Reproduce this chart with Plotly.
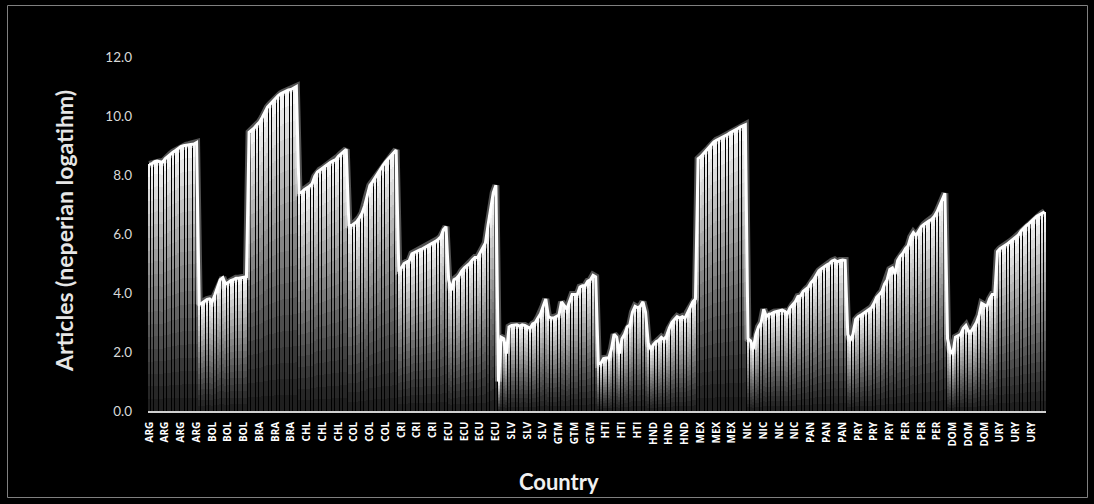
import plotly.graph_objects as go

# Country codes, in plotting order; each country has 19 yearly observations
countries = ["ARG", "BOL", "BRA", "CHL", "COL", "CRI", "ECU", "SLV", "GTM",
             "HTI", "HND", "MEX", "NIC", "PAN", "PRY", "PER", "DOM", "URY"]

# Articles per year (natural logarithm), one list per country
arg = [8.36, 8.38, 8.45, 8.47, 8.45, 8.43, 8.55, 8.63, 8.70, 8.77, 8.83, 8.90, 8.96, 8.99, 9.01, 9.03, 9.04, 9.05, 9.10]
bol = [3.62, 3.65, 3.73, 3.78, 3.80, 3.72, 3.95, 4.20, 4.45, 4.52, 4.30, 4.35, 4.42, 4.45, 4.50, 4.50, 4.52, 4.52, 4.55]
bra = [9.45, 9.52, 9.60, 9.70, 9.80, 9.95, 10.15, 10.30, 10.40, 10.50, 10.60, 10.68, 10.75, 10.80, 10.85, 10.88, 10.90, 10.94, 11.00]
chl = [7.40, 7.41, 7.50, 7.55, 7.62, 7.70, 7.95, 8.10, 8.17, 8.22, 8.28, 8.35, 8.43, 8.48, 8.52, 8.63, 8.72, 8.80, 8.87]
col = [6.30, 6.28, 6.35, 6.42, 6.55, 6.70, 6.95, 7.35, 7.65, 7.77, 7.92, 8.02, 8.20, 8.33, 8.45, 8.55, 8.63, 8.72, 8.85]
cri = [4.80, 4.85, 5.00, 5.05, 5.10, 5.33, 5.38, 5.42, 5.46, 5.50, 5.55, 5.60, 5.65, 5.68, 5.75, 5.82, 5.90, 6.14, 6.25]
ecu = [4.45, 4.10, 4.45, 4.50, 4.60, 4.75, 4.85, 4.93, 5.00, 5.12, 5.20, 5.20, 5.35, 5.55, 5.70, 6.30, 6.90, 7.40, 7.65]
slv = [1.00, 2.50, 2.45, 1.95, 2.85, 2.90, 2.90, 2.92, 2.88, 2.92, 2.90, 2.85, 2.80, 2.95, 3.00, 3.15, 3.30, 3.55, 3.80]
gtm = [3.20, 3.15, 3.15, 3.20, 3.25, 3.70, 3.55, 3.45, 3.70, 3.95, 3.95, 3.95, 4.20, 4.25, 4.25, 4.40, 4.45, 4.60, 4.55]
hti = [1.60, 1.62, 1.78, 1.80, 1.80, 2.10, 2.60, 2.50, 1.95, 2.45, 2.60, 2.85, 2.92, 3.35, 3.55, 3.50, 3.55, 3.70, 3.35]
hnd = [2.30, 2.10, 2.25, 2.35, 2.40, 2.50, 2.42, 2.55, 2.80, 3.00, 3.10, 3.20, 3.15, 3.20, 3.15, 3.35, 3.50, 3.70, 3.80]
mex = [8.55, 8.62, 8.72, 8.82, 8.90, 9.00, 9.12, 9.18, 9.22, 9.27, 9.32, 9.36, 9.42, 9.48, 9.52, 9.57, 9.62, 9.65, 9.70]
nic = [2.45, 2.38, 2.10, 2.60, 2.85, 3.00, 3.45, 3.20, 3.28, 3.30, 3.35, 3.37, 3.40, 3.42, 3.38, 3.30, 3.50, 3.60, 3.70]
pan = [3.88, 3.90, 4.05, 4.12, 4.20, 4.35, 4.45, 4.60, 4.75, 4.82, 4.90, 4.95, 5.00, 5.08, 5.12, 5.05, 5.10, 5.12, 5.10]
pry = [2.60, 2.40, 2.60, 3.10, 3.20, 3.25, 3.32, 3.38, 3.45, 3.50, 3.65, 3.85, 3.95, 4.05, 4.30, 4.45, 4.80, 4.85, 4.65]
per = [5.10, 5.25, 5.35, 5.50, 5.60, 5.90, 6.05, 5.95, 6.10, 6.25, 6.32, 6.40, 6.45, 6.50, 6.60, 6.75, 6.95, 7.15, 7.38]
dom = [2.45, 2.05, 1.95, 2.50, 2.55, 2.60, 2.80, 2.90, 2.70, 2.70, 2.85, 3.00, 3.25, 3.65, 3.60, 3.55, 3.80, 3.95, 3.95]
ury = [5.40, 5.50, 5.55, 5.62, 5.68, 5.75, 5.82, 5.90, 5.97, 6.10, 6.20, 6.28, 6.35, 6.45, 6.52, 6.60, 6.65, 6.70, 6.75]

series = [arg, bol, bra, chl, col, cri, ecu, slv, gtm,
          hti, hnd, mex, nic, pan, pry, per, dom, ury]

# Flatten into one sequence of observations with their country labels
values = [v for s in series for v in s]
labels = [c for c, s in zip(countries, series) for _ in s]
idx = list(range(len(values)))

# Every sixth observation carries a country label on the axis
tick_step = 6
tickvals = idx[::tick_step]
ticktext = [labels[i] for i in tickvals]

W, H = 1094, 504
FONT = "Lato"

fig = go.Figure()

# Bars with a vertical fade: each bar is split into stacked slices that
# run from dark at the base to white at the top
n_slices = 20
for k in range(n_slices):
    t = (k + 0.5) / n_slices
    b = int(28 + (250 - 28) * t ** 1.15)
    fig.add_trace(go.Bar(
        x=idx, y=[v / n_slices for v in values],
        marker=dict(color=f"rgb({b},{b},{b})", line=dict(width=0)),
        hoverinfo="skip",
    ))

# Soft halo under the outline
fig.add_trace(go.Scatter(
    x=idx, y=values, mode="lines",
    line=dict(color="rgba(255,255,255,0.32)", width=7),
    hoverinfo="skip",
))
# Outline across the bar tops
fig.add_trace(go.Scatter(
    x=idx, y=values, mode="lines",
    line=dict(color="white", width=3),
    customdata=labels,
    hovertemplate="%{customdata}: %{y:.2f}<extra></extra>",
))

fig.update_layout(
    width=W, height=H, autosize=False,
    margin=dict(l=0, r=0, t=0, b=0, pad=0),
    paper_bgcolor="black", plot_bgcolor="black",
    barmode="stack", bargap=0.6,
    showlegend=False,
    xaxis=dict(
        domain=[148 / W, 1046 / W],
        range=[-0.5, len(values) - 0.5],
        tickmode="array", tickvals=tickvals, ticktext=ticktext,
        tickangle=-90,
        tickfont=dict(family="Open Sans", size=10, color="white", weight="bold"),
        ticks="", ticklabelstandoff=5,
        showline=True, linecolor="#d0d0d0", linewidth=1.5,
        showgrid=False, zeroline=False, automargin=False,
    ),
    yaxis=dict(
        domain=[(H - 411) / H, (H - 57) / H],
        range=[0, 12],
        tickmode="array", tickvals=[0, 2, 4, 6, 8, 10, 12],
        tickformat=".1f",
        tickfont=dict(family=FONT, size=13.5, color="#d9d9d9"),
        ticks="", ticklabelstandoff=15,
        showline=False, showgrid=False, zeroline=False, automargin=False,
    ),
    annotations=[
        dict(text="Articles (neperian logatihm)", textangle=-90,
             x=64 / W, y=1 - 231 / H, xref="paper", yref="paper",
             showarrow=False, xanchor="center", yanchor="middle",
             font=dict(family=FONT, size=23, color="#e6e6e6", weight="bold")),
        dict(text="Country",
             x=559 / W, y=1 - 481 / H, xref="paper", yref="paper",
             showarrow=False, xanchor="center", yanchor="middle",
             font=dict(family=FONT, size=22, color="#f0f0f0", weight="bold")),
    ],
    shapes=[
        dict(type="rect", xref="paper", yref="paper",
             x0=7.5 / W, x1=1087.5 / W, y0=1 - 497.5 / H, y1=1 - 5.5 / H,
             line=dict(color="#808080", width=1), fillcolor="rgba(0,0,0,0)",
             layer="below"),
    ],
)

fig.write_html("out.html")
